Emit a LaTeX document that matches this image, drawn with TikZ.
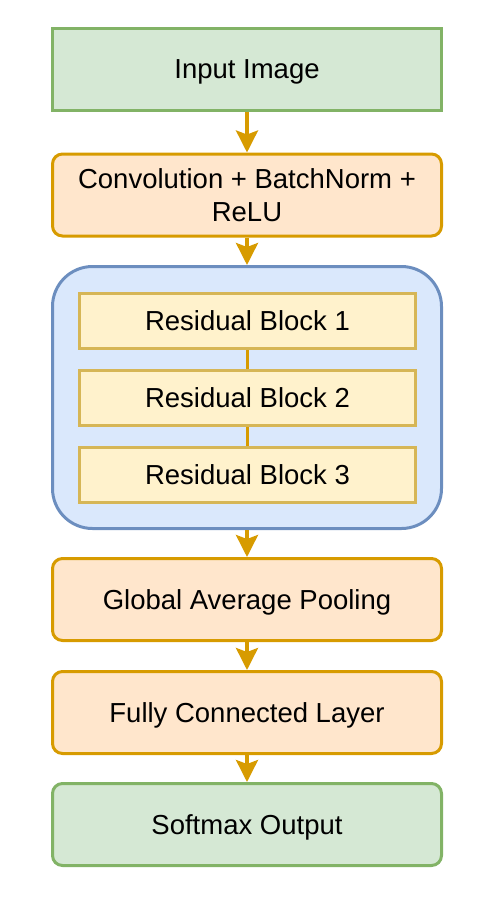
\documentclass[tikz,border=0pt]{standalone}
\usepackage{fontspec}
\setmainfont{Liberation Sans}
\usetikzlibrary{arrows.meta}
\definecolor{greenfill}{HTML}{D5E8D4}
\definecolor{greenline}{HTML}{82B366}
\definecolor{orangefill}{HTML}{FFE6CC}
\definecolor{orangeline}{HTML}{D79B00}
\definecolor{bluefill}{HTML}{DAE8FC}
\definecolor{blueline}{HTML}{6C8EBF}
\definecolor{yellowfill}{HTML}{FFF2CC}
\definecolor{yellowline}{HTML}{D6B656}

\begin{document}
\begin{tikzpicture}
[x=1pt,y=-1pt,every node/.style={rectangle,draw,line width=3pt,minimum width=389pt,minimum height=82pt,inner sep=0pt,text depth=0pt,align=center,font=\fontsize{27.5}{33}\selectfont},
io/.style={fill=greenfill,draw=greenline},
layer/.style={fill=orangefill,draw=orangeline,rounded corners=10pt},
resblock/.style={fill=yellowfill,draw=yellowline,minimum width=336pt,minimum height=55pt},
flow/.style={draw=orangeline,line width=3.5pt,-{Stealth[length=22pt,width=22pt,inset=4pt]}}]
\useasboundingbox (0,0) rectangle (486,902);
\node[io] (img) at (247,69.5) {Input Image};
\node[layer] (conv) at (247,195) {Convolution + BatchNorm +\\ReLU};
\node[fill=bluefill,draw=blueline,rounded corners=40pt,minimum height=262pt] (res) at (247,397.5) {};
\node[resblock] (rb1) at (247.5,321) {Residual Block 1};
\node[resblock] (rb2) at (247.5,398) {Residual Block 2};
\node[resblock] (rb3) at (247.5,474.5) {Residual Block 3};
\node[layer] (gap) at (247,599.5) {Global Average Pooling};
\node[layer] (fc) at (247,712.5) {Fully Connected Layer};
\node[io,rounded corners=10pt] (soft) at (247,824.5) {Softmax Output};
\foreach \from/\to in {img/conv,conv/res,res/gap,gap/fc,fc/soft}
\draw[flow] (\from) -- (\to);
\draw[orangeline,line width=3.5pt](rb1) -- (rb2);
\draw[orangeline,line width=3.5pt](rb2) -- (rb3);
\end{tikzpicture}
\end{document}
